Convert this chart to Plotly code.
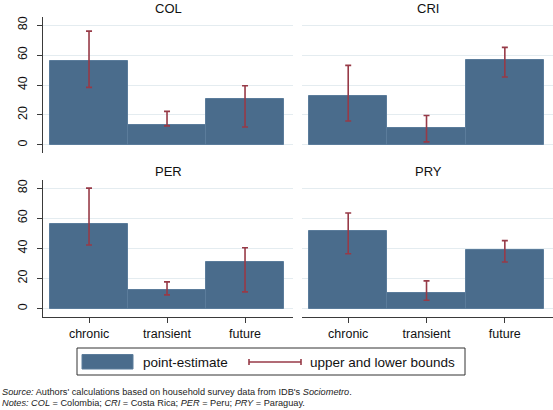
import plotly.graph_objects as go

W, H = 553, 410

categories = ["chronic", "transient", "future"]
countries = ["COL", "CRI", "PER", "PRY"]

col_est = [56.2, 13.5, 30.7]
col_upper = [76.0, 22.4, 39.5]
col_lower = [38.4, 12.7, 12.0]

cri_est = [32.4, 11.3, 56.9]
cri_upper = [53.1, 19.6, 65.1]
cri_lower = [16.0, 2.0, 45.3]

per_est = [56.4, 12.4, 31.1]
per_upper = [80.0, 17.7, 40.4]
per_lower = [42.2, 9.1, 11.1]

pry_est = [51.3, 10.4, 38.7]
pry_upper = [63.5, 18.4, 45.1]
pry_lower = [36.4, 5.5, 30.9]

y_ticks = [0, 20, 40, 60, 80]

est = [col_est, cri_est, per_est, pry_est]
upper = [col_upper, cri_upper, per_upper, pry_upper]
lower = [col_lower, cri_lower, per_lower, pry_lower]

BAR = "#4a6c8c"
BAR_LINE = "#5b7c9b"
ERR = "#973a47"
GRID = "#e4ecf0"
AXIS = "#3a3a3a"
FONT = "Liberation Sans, Arial, sans-serif"


def px_x(p):
    return p / W


def px_y(p):
    return 1 - p / H


fig = go.Figure()

x_doms = [(px_x(43), px_x(293)), (px_x(302), 1.0)]
y_doms = [(px_y(153), px_y(17)), (px_y(316.7), px_y(180))]

for i, c in enumerate(countries):
    row, colm = divmod(i, 2)
    idx = i + 1
    xa = "x" if idx == 1 else f"x{idx}"
    ya = "y" if idx == 1 else f"y{idx}"
    e = est[i]
    fig.add_trace(go.Bar(
        x=categories, y=e, width=1.0,
        marker=dict(color=BAR, line=dict(color=BAR_LINE, width=1)),
        error_y=dict(type="data", symmetric=False,
                     array=[u - v for u, v in zip(upper[i], e)],
                     arrayminus=[v - l for v, l in zip(e, lower[i])],
                     color=ERR, thickness=1.6, width=3),
        xaxis=xa, yaxis=ya, showlegend=False, hoverinfo="skip",
    ))
    bottom = row == 1
    left = colm == 0
    xkey = "xaxis" if idx == 1 else f"xaxis{idx}"
    ykey = "yaxis" if idx == 1 else f"yaxis{idx}"
    fig.layout[xkey] = dict(
        domain=x_doms[colm], anchor=ya, range=[-0.59, 2.615],
        showgrid=False, zeroline=False,
        showline=bottom, linecolor=AXIS, linewidth=1,
        ticks="outside" if bottom else "", ticklen=5, tickcolor=AXIS,
        showticklabels=bottom, tickfont=dict(size=12.5, color="#111", family=FONT),
        categoryorder="array", categoryarray=categories,
    )
    fig.layout[ykey] = dict(
        domain=y_doms[row], anchor=xa, range=[-5.4, 85.4],
        tickvals=y_ticks, showgrid=True, gridcolor=GRID, gridwidth=1,
        zeroline=False,
        showline=left, linecolor=AXIS, linewidth=1,
        ticks="outside" if left else "", ticklen=5, tickcolor=AXIS,
        showticklabels=left, tickangle=-90, ticklabelstandoff=5,
        tickfont=dict(size=12.5, color="#111", family=FONT),
    )

annotations = []
title_pos = [(168, 8), (428, 8), (168, 172), (428, 172)]
for c, (tx, ty) in zip(countries, title_pos):
    annotations.append(dict(text=c, x=px_x(tx), y=px_y(ty), xref="paper", yref="paper",
                            xanchor="center", yanchor="middle", showarrow=False,
                            font=dict(size=13, color="#111", family=FONT)))

shapes = [
    dict(type="rect", xref="paper", yref="paper", x0=px_x(77), x1=px_x(465),
         y0=px_y(375), y1=px_y(348), line=dict(color="#333", width=1), fillcolor="white"),
    dict(type="rect", xref="paper", yref="paper", x0=px_x(82), x1=px_x(133),
         y0=px_y(369), y1=px_y(354.5), line=dict(color=BAR_LINE, width=1), fillcolor=BAR),
    dict(type="line", xref="paper", yref="paper", x0=px_x(249), x1=px_x(301),
         y0=px_y(362), y1=px_y(362), line=dict(color=ERR, width=1.6)),
    dict(type="line", xref="paper", yref="paper", x0=px_x(249), x1=px_x(249),
         y0=px_y(365), y1=px_y(359), line=dict(color=ERR, width=1.6)),
    dict(type="line", xref="paper", yref="paper", x0=px_x(301), x1=px_x(301),
         y0=px_y(365), y1=px_y(359), line=dict(color=ERR, width=1.6)),
]
annotations.append(dict(text="point-estimate", x=px_x(141), y=px_y(362), xref="paper", yref="paper",
                        xanchor="left", yanchor="middle", showarrow=False,
                        font=dict(size=13.5, color="#111", family=FONT)))
annotations.append(dict(text="upper and lower bounds", x=px_x(308), y=px_y(362), xref="paper", yref="paper",
                        xanchor="left", yanchor="middle", showarrow=False,
                        font=dict(size=13.5, color="#111", family=FONT)))

annotations.append(dict(
    text="<i>Source:</i> Authors' calculations based on household survey data from IDB's <i>Sociometro</i>.",
    x=0, y=px_y(392), xref="paper", yref="paper", xanchor="left", yanchor="middle",
    showarrow=False, font=dict(size=9.2, color="#222", family=FONT)))
annotations.append(dict(
    text="<i>Notes: COL</i> = Colombia; <i>CRI</i> = Costa Rica; <i>PER</i> = Peru; <i>PRY</i> = Paraguay.",
    x=0, y=px_y(403), xref="paper", yref="paper", xanchor="left", yanchor="middle",
    showarrow=False, font=dict(size=9.2, color="#222", family=FONT)))

fig.update_layout(
    width=W, height=H, margin=dict(l=0, r=0, t=0, b=0),
    paper_bgcolor="white", plot_bgcolor="white",
    bargap=0, showlegend=False,
    annotations=annotations, shapes=shapes,
    font=dict(family=FONT),
)

fig.write_html("out.html", config={"displayModeBar": False},
               post_script="document.body.style.margin='0';document.body.style.overflow='hidden';")
